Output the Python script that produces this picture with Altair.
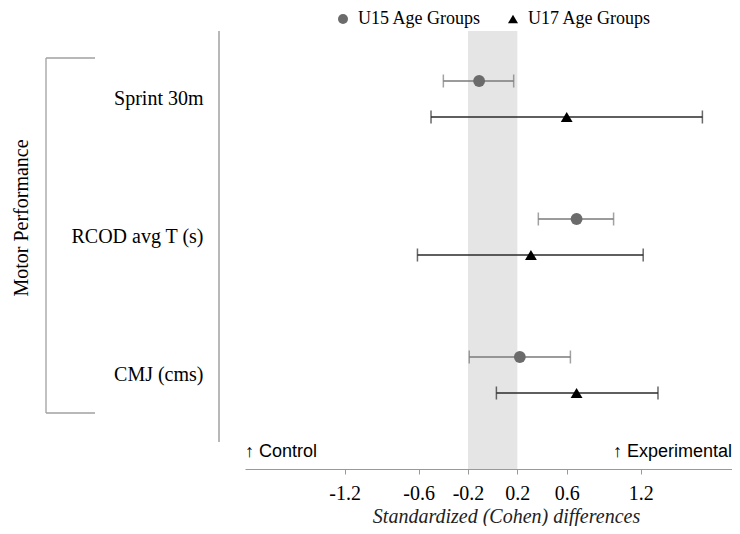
import altair as alt
import pandas as pd

# ---- data ----
measures = ["Sprint 30m", "RCOD avg T (s)", "CMJ (cms)"]
groups = ["U15 Age Groups", "U17 Age Groups"]

u15_est = [-0.11, 0.68, 0.22]
u15_lo = [-0.40, 0.37, -0.19]
u15_hi = [0.17, 0.98, 0.63]

u17_est = [0.60, 0.31, 0.68]
u17_lo = [-0.50, -0.61, 0.03]
u17_hi = [1.70, 1.22, 1.34]

tick_values = [-1.2, -0.6, -0.2, 0.2, 0.6, 1.2]
trivial_band = [-0.2, 0.2]
x_domain = [-2.008, 1.94]

bar_colors = ["#7a7a7a", "#2a2a2a"]
point_colors = ["#6b6b6b", "#000000"]
point_shapes = ["circle", "triangle-up"]

axis_title = "Standardized (Cohen) differences"
domain_label = "Motor Performance"
left_note = "\u2191 Control"
right_note = "\u2191 Experimental"

# ---- tables ----
rows = []
for i, m in enumerate(measures):
    rows.append({"measure": m, "group": groups[0], "est": u15_est[i], "lo": u15_lo[i], "hi": u15_hi[i]})
    rows.append({"measure": m, "group": groups[1], "est": u17_est[i], "lo": u17_lo[i], "hi": u17_hi[i]})
df = pd.DataFrame(rows)
band_df = pd.DataFrame({"lo": [trivial_band[0]], "hi": [trivial_band[1]]})

SERIF = "Liberation Serif"
SANS = "Liberation Sans"
W, H = 487, 438

xscale = alt.Scale(domain=x_domain, nice=False, zero=False)
yscale = alt.Scale(domain=measures, range=[-1, 413], paddingInner=0, paddingOuter=0)
yoff_scale = alt.Scale(domain=groups, paddingInner=0, paddingOuter=0.9167)

x_axis = alt.Axis(
    values=tick_values,
    labelExpr="toString(datum.value)",
    grid=False,
    tickSize=5,
    tickColor="#999999",
    domainColor="#999999",
    labelFont=SERIF,
    labelFontSize=20,
    labelColor="black",
    labelPadding=9,
    title=axis_title,
    titleFont=SERIF,
    titleFontSize=20,
    titleFontStyle="italic",
    titleFontWeight="normal",
    titleColor="#222222",
    titleX=261,
    titleY=47,
    titleBaseline="middle",
    titleAlign="center",
)
y_axis = alt.Axis(
    title=None,
    domain=False,
    ticks=False,
    grid=False,
    labelPadding=42,
    labelFont=SERIF,
    labelFontSize=20,
    labelColor="black",
)

base = alt.Chart(df)

band = alt.Chart(band_df).mark_rect(color="#e5e5e5").encode(
    x=alt.X("lo:Q", scale=xscale, axis=x_axis),
    x2="hi:Q",
    y=alt.value(0),
    y2=alt.value(H),
)

y_enc = alt.Y("measure:N", scale=yscale, axis=y_axis, sort=measures)
yoff_enc = alt.YOffset("group:N", scale=yoff_scale, sort=groups)

bar_layers = []
for g, c in zip(groups, bar_colors):
    sub = base.transform_filter(alt.datum.group == g)
    bar_layers.append(sub.mark_rule(strokeWidth=1.5, color=c).encode(
        x=alt.X("lo:Q", scale=xscale), x2="hi:Q", y=y_enc, yOffset=yoff_enc))
    bar_layers.append(sub.mark_tick(size=13, thickness=1.5, color=c).encode(
        x=alt.X("lo:Q", scale=xscale), y=y_enc, yOffset=yoff_enc))
    bar_layers.append(sub.mark_tick(size=13, thickness=1.5, color=c).encode(
        x=alt.X("hi:Q", scale=xscale), y=y_enc, yOffset=yoff_enc))

legend = alt.Legend(
    title=None,
    orient="none",
    legendX=89,
    legendY=-21,
    direction="horizontal",
    labelFont=SERIF,
    labelFontSize=18,
    labelColor="black",
    symbolSize=100,
    symbolStrokeWidth=0,
    labelOffset=6,
    columnPadding=23,
)
points = base.mark_point(filled=True, size=140, opacity=1).encode(
    x=alt.X("est:Q", scale=xscale),
    y=y_enc,
    yOffset=yoff_enc,
    color=alt.Color("group:N", scale=alt.Scale(domain=groups, range=point_colors), legend=legend),
    shape=alt.Shape("group:N", scale=alt.Scale(domain=groups, range=point_shapes), legend=legend),
)

sep = alt.Chart(band_df).mark_rule(color="#b8b8b8", strokeWidth=2).encode(
    x=alt.value(-26), y=alt.value(0), y2=alt.value(411)
)
br_v = alt.Chart(band_df).mark_rule(color="#a0a0a0", strokeWidth=1.3).encode(
    x=alt.value(-199), y=alt.value(27), y2=alt.value(382)
)
br_t = alt.Chart(band_df).mark_rule(color="#a0a0a0", strokeWidth=1.3).encode(
    x=alt.value(-199), x2=alt.value(-150), y=alt.value(27)
)
br_b = alt.Chart(band_df).mark_rule(color="#a0a0a0", strokeWidth=1.3).encode(
    x=alt.value(-199), x2=alt.value(-150), y=alt.value(382)
)
dom_text = alt.Chart(band_df).mark_text(
    angle=270, font=SERIF, fontSize=20, color="black", align="center", baseline="middle"
).encode(x=alt.value(-223), y=alt.value(187), text=alt.value(domain_label))

ctrl = alt.Chart(band_df).mark_text(
    font=SANS, fontSize=18, color="black", align="left", baseline="middle"
).encode(x=alt.value(0), y=alt.value(421), text=alt.value(left_note))
expt = alt.Chart(band_df).mark_text(
    font=SANS, fontSize=18, color="black", align="right", baseline="middle"
).encode(x=alt.value(W), y=alt.value(421), text=alt.value(right_note))

chart = alt.layer(
    band, sep, br_v, br_t, br_b, dom_text, ctrl, expt, *bar_layers, points
).properties(
    width=W,
    height=H,
    padding={"left": 237, "top": 23, "right": 0, "bottom": 57},
    autosize=alt.AutoSizeParams(type="none"),
).configure_view(stroke=None)

chart.save("out.html", embed_options={"renderer": "svg", "actions": False})
